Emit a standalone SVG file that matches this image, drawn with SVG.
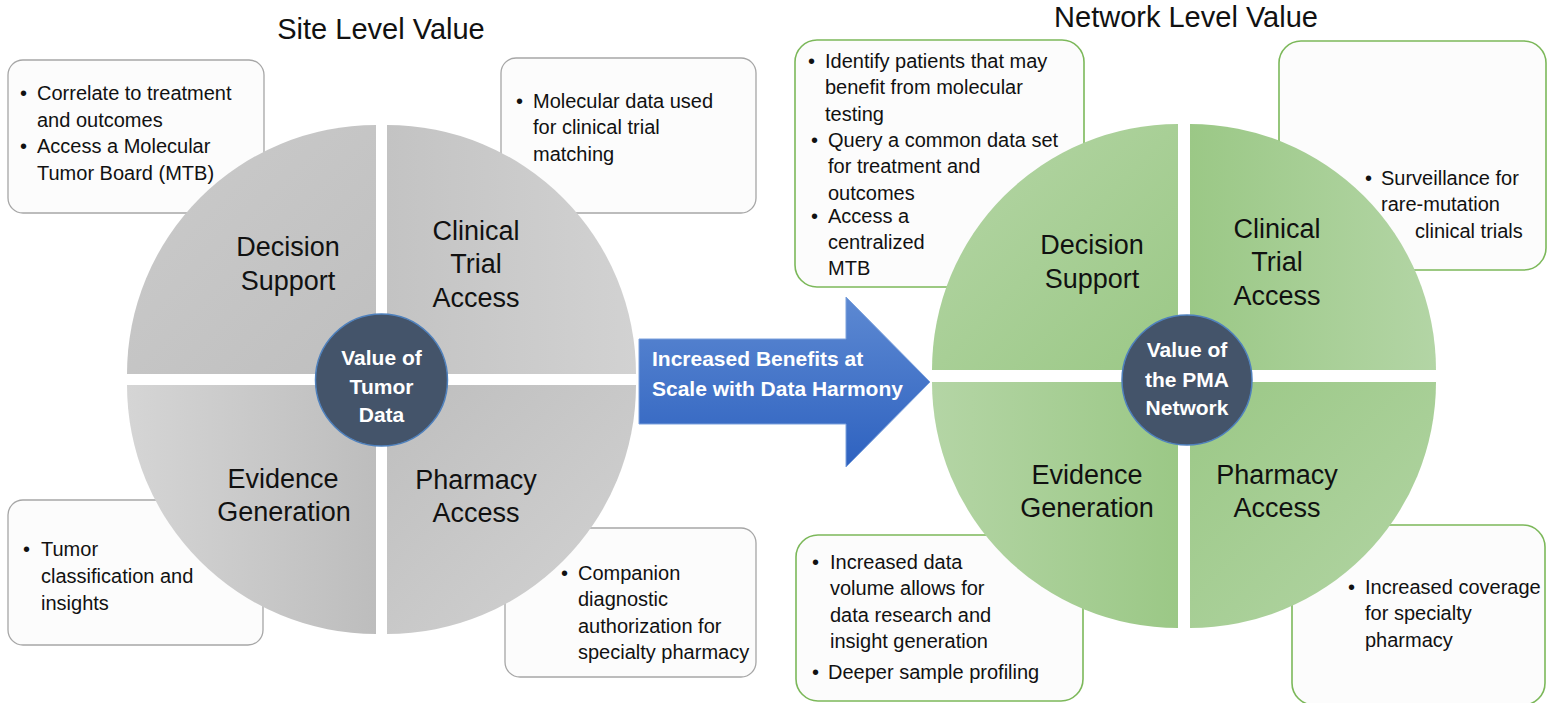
<svg xmlns="http://www.w3.org/2000/svg" width="1547" height="703" viewBox="0 0 1547 703">
  <defs>
    <style>
      text { font-family: "Liberation Sans", Arial, sans-serif; fill: #111; }
      .title { font-size: 29px; text-anchor: middle; }
      .quad { font-size: 27px; text-anchor: middle; }
      .hub { font-size: 21px; font-weight: bold; fill: #fff; text-anchor: middle; }
      .body { font-size: 20px; }
      .arrowtxt { font-size: 21px; font-weight: bold; fill: #fff; }
      .gbox { fill: #fcfcfc; stroke: #a6a6a6; stroke-width: 1.3; }
      .nbox { fill: #fcfcfc; stroke: #7cb85a; stroke-width: 1.6; }
      .hubc { fill: #44546a; stroke: #4f81bd; stroke-width: 1.5; }
    </style>
    <linearGradient id="gTL" x1="0" y1="0" x2="1" y2="1">
      <stop offset="0" stop-color="#cbcbcb"/><stop offset="1" stop-color="#bfbfbf"/>
    </linearGradient>
    <linearGradient id="gTR" x1="0" y1="0" x2="1" y2="0">
      <stop offset="0" stop-color="#c3c3c3"/><stop offset="1" stop-color="#d2d2d2"/>
    </linearGradient>
    <linearGradient id="gBL" x1="0" y1="0" x2="1" y2="0">
      <stop offset="0" stop-color="#d5d5d5"/><stop offset="1" stop-color="#bdbdbd"/>
    </linearGradient>
    <linearGradient id="gBR" x1="0" y1="0" x2="1" y2="1">
      <stop offset="0" stop-color="#bebebe"/><stop offset="1" stop-color="#d3d3d3"/>
    </linearGradient>
    <linearGradient id="nTL" x1="0" y1="0" x2="1" y2="1">
      <stop offset="0" stop-color="#b5d6a6"/><stop offset="1" stop-color="#9bc886"/>
    </linearGradient>
    <linearGradient id="nTR" x1="0" y1="0" x2="1" y2="0">
      <stop offset="0" stop-color="#9bc886"/><stop offset="1" stop-color="#b3d5a5"/>
    </linearGradient>
    <linearGradient id="nBL" x1="0" y1="0" x2="1" y2="0">
      <stop offset="0" stop-color="#b4d5a5"/><stop offset="1" stop-color="#9bc886"/>
    </linearGradient>
    <linearGradient id="nBR" x1="0" y1="0" x2="1" y2="1">
      <stop offset="0" stop-color="#9bc886"/><stop offset="1" stop-color="#b3d5a5"/>
    </linearGradient>
    <linearGradient id="blue" x1="0" y1="0" x2="0" y2="1">
      <stop offset="0" stop-color="#5d89d2"/><stop offset="1" stop-color="#2e62c0"/>
    </linearGradient>
  </defs>

  <rect width="1547" height="703" fill="#fff"/>

  <!-- headings -->
  <text class="title" x="381" y="39">Site Level Value</text>
  <text class="title" x="1186" y="27">Network Level Value</text>

  <!-- site level: callout boxes -->
  <g id="site-decision-notes">
    <rect class="gbox" x="8" y="60" width="256" height="153" rx="15"/>
    <text class="body" x="20" y="100">•</text>
    <text class="body" x="37" y="100">Correlate to treatment</text>
    <text class="body" x="37" y="127">and outcomes</text>
    <text class="body" x="20" y="153">•</text>
    <text class="body" x="37" y="153">Access a Molecular</text>
    <text class="body" x="37" y="180">Tumor Board (MTB)</text>
  </g>
  <g id="site-trial-notes">
    <rect class="gbox" x="501" y="58" width="255" height="155" rx="15"/>
    <text class="body" x="516" y="108">•</text>
    <text class="body" x="533" y="108">Molecular data used</text>
    <text class="body" x="533" y="134">for clinical trial</text>
    <text class="body" x="533" y="161">matching</text>
  </g>
  <g id="site-evidence-notes">
    <rect class="gbox" x="8" y="500" width="255" height="145" rx="15"/>
    <text class="body" x="23" y="556">•</text>
    <text class="body" x="41" y="556">Tumor</text>
    <text class="body" x="41" y="583">classification and</text>
    <text class="body" x="41" y="610">insights</text>
  </g>
  <g id="site-pharmacy-notes">
    <rect class="gbox" x="505" y="528" width="251" height="149" rx="15"/>
    <text class="body" x="561" y="580">•</text>
    <text class="body" x="578" y="580">Companion</text>
    <text class="body" x="578" y="606">diagnostic</text>
    <text class="body" x="578" y="633">authorization for</text>
    <text class="body" x="578" y="659">specialty pharmacy</text>
  </g>

  <!-- site level: quadrant wheel -->
  <g id="site-decision">
    <path d="M376,374 L127,374 A249,249 0 0 1 376,125 Z" fill="url(#gTL)"/>
    <text class="quad" x="288" y="256">Decision</text>
    <text class="quad" x="288" y="290">Support</text>
  </g>
  <g id="site-trial">
    <path d="M387,374 L387,125 A249,249 0 0 1 636,374 Z" fill="url(#gTR)"/>
    <text class="quad" x="476" y="240">Clinical</text>
    <text class="quad" x="476" y="273">Trial</text>
    <text class="quad" x="476" y="307">Access</text>
  </g>
  <g id="site-evidence">
    <path d="M376,385 L376,634 A249,249 0 0 1 127,385 Z" fill="url(#gBL)"/>
    <text class="quad" x="283" y="488">Evidence</text>
    <text class="quad" x="284" y="521">Generation</text>
  </g>
  <g id="site-pharmacy">
    <path d="M387,385 L636,385 A249,249 0 0 1 387,634 Z" fill="url(#gBR)"/>
    <text class="quad" x="476" y="489">Pharmacy</text>
    <text class="quad" x="476" y="522">Access</text>
  </g>
  <g id="site-hub">
    <circle class="hubc" cx="381.5" cy="380" r="66"/>
    <text class="hub" x="381.5" y="365">Value of</text>
    <text class="hub" x="381.5" y="394">Tumor</text>
    <text class="hub" x="381.5" y="422">Data</text>
  </g>

  <!-- network level: callout boxes -->
  <g id="net-decision-notes">
    <rect class="nbox" x="795" y="40" width="289" height="247" rx="22"/>
    <text class="body" x="808" y="68">•</text>
    <text class="body" x="825" y="68">Identify patients that may</text>
    <text class="body" x="825" y="94">benefit from molecular</text>
    <text class="body" x="825" y="121">testing</text>
    <text class="body" x="811" y="147">•</text>
    <text class="body" x="828" y="147">Query a common data set</text>
    <text class="body" x="828" y="173">for treatment and</text>
    <text class="body" x="828" y="200">outcomes</text>
    <text class="body" x="811" y="223">•</text>
    <text class="body" x="828" y="223">Access a</text>
    <text class="body" x="828" y="249">centralized</text>
    <text class="body" x="828" y="275">MTB</text>
  </g>
  <g id="net-trial-notes">
    <rect class="nbox" x="1279" y="41" width="267" height="229" rx="22"/>
    <text class="body" x="1365" y="185">•</text>
    <text class="body" x="1381" y="185">Surveillance for</text>
    <text class="body" x="1381" y="211">rare-mutation</text>
    <text class="body" x="1415" y="238">clinical trials</text>
  </g>
  <g id="net-evidence-notes">
    <rect class="nbox" x="796" y="535" width="287" height="166" rx="22"/>
    <text class="body" x="812" y="569">•</text>
    <text class="body" x="830" y="569">Increased data</text>
    <text class="body" x="830" y="595">volume allows for</text>
    <text class="body" x="830" y="622">data research and</text>
    <text class="body" x="830" y="648">insight generation</text>
    <text class="body" x="812" y="679">•</text>
    <text class="body" x="828" y="679">Deeper sample profiling</text>
  </g>
  <g id="net-pharmacy-notes">
    <rect class="nbox" x="1292" y="525" width="253" height="180" rx="22"/>
    <text class="body" x="1348" y="594">•</text>
    <text class="body" x="1365" y="594">Increased coverage</text>
    <text class="body" x="1365" y="620">for specialty</text>
    <text class="body" x="1365" y="647">pharmacy</text>
  </g>

  <!-- network level: quadrant wheel -->
  <g id="net-decision">
    <path d="M1178,370 L932,370 A246,246 0 0 1 1178,124 Z" fill="url(#nTL)"/>
    <text class="quad" x="1092" y="254">Decision</text>
    <text class="quad" x="1092" y="288">Support</text>
  </g>
  <g id="net-trial">
    <path d="M1190,370 L1190,124 A246,246 0 0 1 1436,370 Z" fill="url(#nTR)"/>
    <text class="quad" x="1277" y="238">Clinical</text>
    <text class="quad" x="1277" y="271">Trial</text>
    <text class="quad" x="1277" y="305">Access</text>
  </g>
  <g id="net-evidence">
    <path d="M1178,382 L1178,628 A246,246 0 0 1 932,382 Z" fill="url(#nBL)"/>
    <text class="quad" x="1087" y="484">Evidence</text>
    <text class="quad" x="1087" y="517">Generation</text>
  </g>
  <g id="net-pharmacy">
    <path d="M1190,382 L1436,382 A246,246 0 0 1 1190,628 Z" fill="url(#nBR)"/>
    <text class="quad" x="1277" y="484">Pharmacy</text>
    <text class="quad" x="1277" y="517">Access</text>
  </g>
  <g id="net-hub">
    <circle class="hubc" cx="1187" cy="380" r="65"/>
    <text class="hub" x="1187" y="357">Value of</text>
    <text class="hub" x="1187" y="387">the PMA</text>
    <text class="hub" x="1187" y="415">Network</text>
  </g>

  <!-- block arrow between the two wheels -->
  <g id="connectors">
    <path d="M639,339 L846,339 L846,297 L930,382 L846,467 L846,424 L639,424 Z" fill="url(#blue)" stroke="#7aa0dc" stroke-width="1"/>
    <text class="arrowtxt" x="652" y="366">Increased Benefits at</text>
    <text class="arrowtxt" x="652" y="396">Scale with Data Harmony</text>
  </g>
</svg>
